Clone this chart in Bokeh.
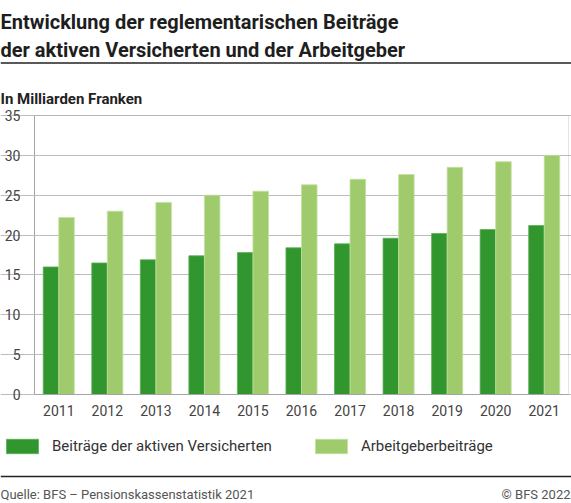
from bokeh.plotting import figure
from bokeh.models import (ColumnDataSource, Label, Span, BoxAnnotation, Legend, LegendItem,
                          FixedTicker, Range1d)
from bokeh.transform import dodge
from bokeh.embed import file_html
from bokeh.resources import INLINE

years = [2011, 2012, 2013, 2014, 2015, 2016, 2017, 2018, 2019, 2020, 2021]
versicherte = [16.0, 16.5, 16.9, 17.4, 17.8, 18.4, 18.9, 19.6, 20.2, 20.7, 21.2]
arbeitgeber = [22.2, 23.0, 24.1, 25.0, 25.5, 26.3, 27.0, 27.6, 28.5, 29.2, 30.0]
y_ticks = [0, 5, 10, 15, 20, 25, 30, 35]

title_lines = ["Entwicklung der reglementarischen Beiträge",
               "der aktiven Versicherten und der Arbeitgeber"]
unit_label = "In Milliarden Franken"
series_names = ["Beiträge der aktiven Versicherten", "Arbeitgeberbeiträge"]
source_text = "Quelle: BFS – Pensionskassenstatistik 2021"
copyright_text = "© BFS 2022"

DARK, DARK_EDGE = "#31962e", "#5cae57"
LIGHT, LIGHT_EDGE = "#a0cb6d", "#c4e0a2"
GRID = "#bcbcbc"
AXIS = "#a4a4a4"
FONT = "Roboto"

W, H = 571, 503
# plot area in page pixels (left, right, top, bottom)
PL, PR, PT, PB = 34, 568, 115, 394
X0, X1 = years[0] - 0.5, years[-1] + 0.5
Y0, Y1 = 0, 35

# the frame covers the whole canvas, the chart's ranges are stretched so that
# the bars land inside the plot area; axes are pinned with fixed_location
kx = (PR - PL) / (X1 - X0)
ky = (PB - PT) / (Y1 - Y0)
x_range = Range1d(X0 - PL / kx, X1 + (W - PR) / kx)
y_range = Range1d(Y0 - (H - PB) / ky, Y1 + PT / ky)

source = ColumnDataSource(data=dict(year=years, vers=versicherte, ag=arbeitgeber))

p = figure(width=W, height=H, output_backend="svg", toolbar_location=None,
           x_range=x_range, y_range=y_range, min_border=0)
p.extra_x_ranges = {"px": Range1d(0, W)}
p.extra_y_ranges = {"px": Range1d(H, 0)}
p.outline_line_color = None

bw = 0.32
r1 = p.vbar(x=dodge("year", -bw / 2, range=p.x_range), top="vers", width=bw, source=source,
            fill_color=DARK, line_color=DARK_EDGE, line_width=0.8)
r2 = p.vbar(x=dodge("year", bw / 2, range=p.x_range), top="ag", width=bw, source=source,
            fill_color=LIGHT, line_color=LIGHT_EDGE, line_width=0.8)

# axes
p.xaxis.ticker = FixedTicker(ticks=years)
p.yaxis.ticker = FixedTicker(ticks=y_ticks)
p.xaxis.fixed_location = Y0
p.yaxis.fixed_location = X0
p.xaxis.bounds = (X0, X1)
p.yaxis.bounds = (Y0, Y1)
for ax in (p.xaxis, p.yaxis):
    ax.axis_line_color = AXIS
    ax.major_tick_line_color = GRID
    ax.minor_tick_line_color = None
    ax.major_label_text_font = FONT
    ax.major_label_text_font_size = "14px"
    ax.major_label_text_color = "#444444"
    ax.major_tick_in = 0
p.xaxis.major_tick_out = 0
p.xaxis.major_label_standoff = 10
p.yaxis.major_tick_out = 2
p.yaxis.major_label_standoff = 12

p.xgrid.grid_line_color = None
p.ygrid.grid_line_color = GRID
p.ygrid.grid_line_width = 1
p.ygrid.bounds = (X0, X1)

# box around the plot area
p.add_layout(BoxAnnotation(left=X0, right=X1, bottom=Y0, top=Y1, fill_alpha=0,
                           line_color=AXIS, line_width=1, level="underlay"))

legend = Legend(items=[LegendItem(label=series_names[0], renderers=[r1]),
                       LegendItem(label=series_names[1], renderers=[r2])],
                orientation="horizontal", location=(2, 48),
                glyph_width=40, glyph_height=18, label_standoff=10, spacing=39,
                padding=0, margin=0, border_line_color=None, background_fill_alpha=0,
                label_text_font=FONT, label_text_font_size="15px", label_text_color="#333333",
                label_height=18)
p.add_layout(legend, "center")


def text(x, y, s, size, color="#1e1e1e", align="left", style="normal"):
    p.add_layout(Label(x=x, y=y, x_range_name="px", y_range_name="px", text=s,
                       text_font=FONT, text_font_size=size, text_color=color,
                       text_font_style=style, text_align=align, text_baseline="alphabetic"))


def rule(y):
    p.add_layout(Span(location=y, dimension="width", y_range_name="px",
                      line_color="#222222", line_width=1.3))


text(0, 21, title_lines[0], "20px", style="bold")
text(0, 49.5, title_lines[1], "20px", style="bold")
rule(62.5)
text(0, 98.5, unit_label, "15px", color="#222222", style="bold")
rule(476)
text(0, 494, source_text, "13px", color="#555555")
text(W - 1, 494, copyright_text, "13px", color="#555555", align="right")

open("out.html", "w").write(file_html(p, INLINE))
